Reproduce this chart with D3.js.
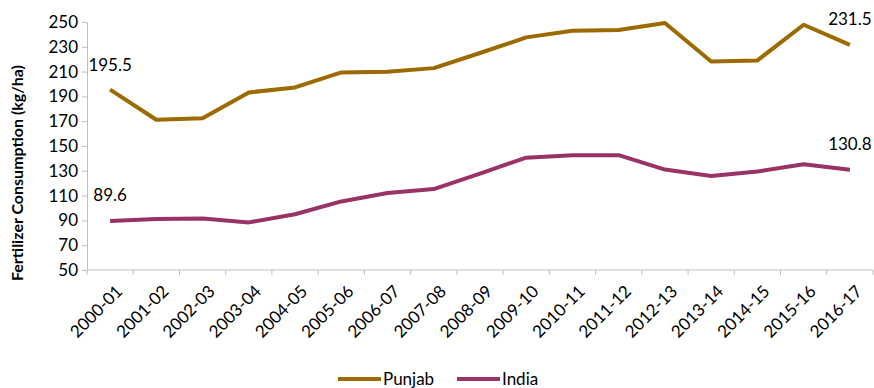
<!DOCTYPE html>
<html>
<head>
<meta charset="utf-8">
<script src="https://cdn.jsdelivr.net/npm/d3@7"></script>
<style>
  body { margin: 0; background: #fff; }
  svg { display: block; font-family: Lato, "Open Sans", sans-serif; }
</style>
</head>
<body>
<svg id="chart" width="874" height="388"></svg>
<script>
// Fertilizer consumption (kg/ha), Punjab vs. India
const years = ["2000-01","2001-02","2002-03","2003-04","2004-05","2005-06","2006-07","2007-08","2008-09",
               "2009-10","2010-11","2011-12","2012-13","2013-14","2014-15","2015-16","2016-17"];
const punjab = [195.5, 171.2, 172.3, 193.2, 197.2, 209.3, 209.8, 212.8, 225.0,
                237.6, 243.0, 243.6, 249.2, 218.2, 219.0, 247.8, 231.5];
const india  = [89.6, 91.1, 91.6, 88.4, 95.0, 105.3, 112.1, 115.3, 127.8,
                140.6, 142.6, 142.6, 131.0, 125.8, 129.5, 135.2, 130.8];
const yTicks = [50, 70, 90, 110, 130, 150, 170, 190, 210, 230, 250];
const seriesNames = ["Punjab", "India"];
const seriesColors = ["#9C6A00", "#993366"];

const svg = d3.select("#chart");
const margin = { left: 87, right: 873, top: 22, bottom: 270 };
const fs = 17;

const x = d3.scaleBand().domain(years).range([margin.left, margin.right]);
const y = d3.scaleLinear().domain([50, 250]).range([margin.bottom, margin.top]);

// y axis
const yAxis = svg.append("g")
  .attr("transform", `translate(${margin.left},0)`)
  .call(d3.axisLeft(y).tickValues(yTicks).tickSize(5).tickPadding(4));
yAxis.select(".domain").attr("stroke", "#BFBFBF").attr("stroke-width", 1);
yAxis.selectAll(".tick line").attr("stroke", "#BFBFBF");
yAxis.selectAll(".tick text").attr("font-size", fs).attr("fill", "#000")
  .attr("font-family", "Lato, sans-serif");

// x axis: ticks sit at category boundaries
const xAxisG = svg.append("g").attr("transform", `translate(0,${margin.bottom})`);
xAxisG.append("line")
  .attr("x1", margin.left).attr("x2", margin.right)
  .attr("y1", 0).attr("y2", 0)
  .attr("stroke", "#BFBFBF");
const bounds = years.map(d => x(d)).concat([x(years[years.length - 1]) + x.bandwidth()]);
xAxisG.selectAll("line.tk").data(bounds).join("line")
  .attr("class", "tk")
  .attr("x1", d => d).attr("x2", d => d)
  .attr("y1", 0).attr("y2", 5)
  .attr("stroke", "#BFBFBF");
xAxisG.selectAll("text").data(years).join("text")
  .attr("transform", d => `translate(${x(d) + x.bandwidth() / 2 + 5},${14}) rotate(-45)`)
  .attr("text-anchor", "end")
  .attr("dy", "0.7em")
  .attr("font-size", fs)
  .attr("fill", "#000")
  .text(d => d);

// y axis title
svg.append("text")
  .attr("transform", `translate(23,${(margin.top + margin.bottom) / 2 + 27}) rotate(-90)`)
  .attr("text-anchor", "middle")
  .attr("font-size", 16)
  .attr("font-weight", "bold")
  .attr("fill", "#000")
  .text("Fertilizer Consumption (kg/ha)");

// lines
const line = d3.line()
  .x((d, i) => x(years[i]) + x.bandwidth() / 2)
  .y(d => y(d));
[punjab, india].forEach((vals, k) => {
  svg.append("path")
    .datum(vals)
    .attr("fill", "none")
    .attr("stroke", seriesColors[k])
    .attr("stroke-width", 4)
    .attr("stroke-linejoin", "round")
    .attr("d", line);
});

// end-point value labels
const cx = i => x(years[i]) + x.bandwidth() / 2;
const labels = [
  { i: 0, v: punjab[0], dy: -19 },
  { i: years.length - 1, v: punjab[years.length - 1], dy: -20 },
  { i: 0, v: india[0], dy: -20 },
  { i: years.length - 1, v: india[years.length - 1], dy: -20 }
];
svg.selectAll("text.val").data(labels).join("text")
  .attr("class", "val")
  .attr("x", d => cx(d.i))
  .attr("y", d => y(d.v) + d.dy)
  .attr("text-anchor", "middle")
  .attr("font-size", fs)
  .attr("fill", "#000")
  .text(d => d.v.toFixed(1));

// legend
const legend = svg.append("g").attr("transform", "translate(338,379)");
const legendX = [0, 119];
seriesNames.forEach((name, k) => {
  const g = legend.append("g").attr("transform", `translate(${legendX[k]},0)`);
  g.append("line").attr("x1", 0).attr("x2", 43).attr("y1", 0).attr("y2", 0)
    .attr("stroke", seriesColors[k]).attr("stroke-width", 4);
  g.append("text").attr("x", 45).attr("y", 0).attr("dy", "0.35em")
    .attr("font-size", fs).attr("fill", "#000").text(name);
});
</script>
</body>
</html>
